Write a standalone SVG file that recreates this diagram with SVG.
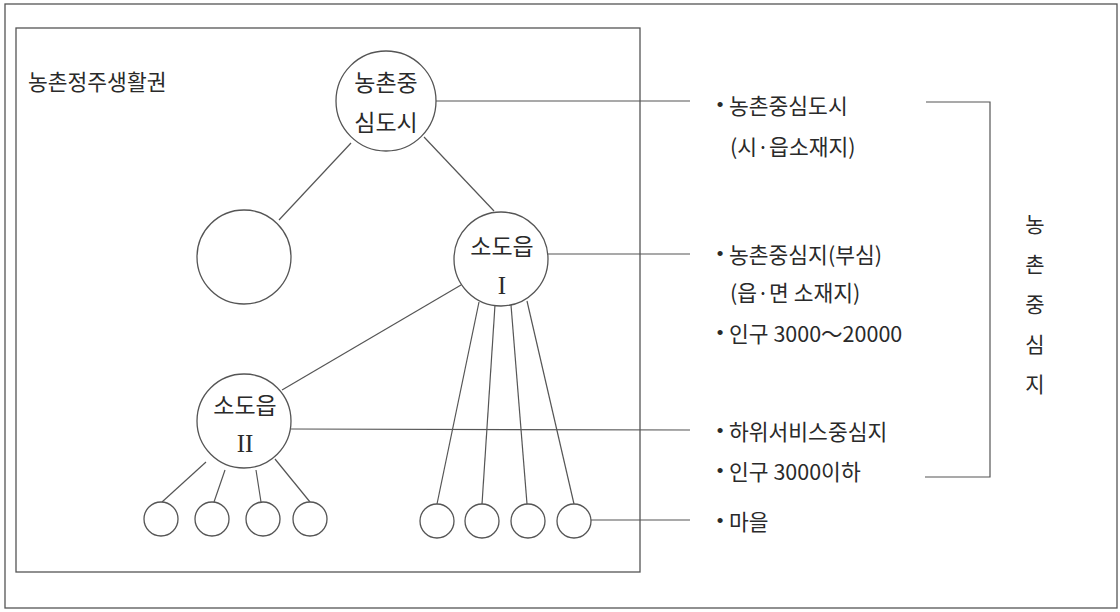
<svg xmlns="http://www.w3.org/2000/svg" width="1120" height="612" viewBox="0 0 1120 612">
  <style>
    .frame { fill: none; stroke: #555; stroke-width: 1.3; }
    .node { fill: #fff; stroke: #555; stroke-width: 1.3; }
    .wire { fill: none; stroke: #555; stroke-width: 1.2; }
    .ko { font-family: "Noto Sans CJK KR", "Noto Sans", sans-serif; font-size: 21.5px; fill: #2a2a2a; dominant-baseline: central; }
    .inner { font-size: 23px; }
    .side { font-size: 21px; }
    .mid { text-anchor: middle; }
    .roman { font-family: "Liberation Serif", serif; font-size: 25px; fill: #2a2a2a; text-anchor: middle; dominant-baseline: central; }
    .dot { font-family: "Liberation Sans", sans-serif; font-size: 19px; fill: #2a2a2a; text-anchor: middle; dominant-baseline: central; }
  </style>
  <rect width="1120" height="612" fill="#fff"/>

  <!-- outer and inner frames -->
  <rect class="frame" x="5" y="4" width="1112" height="604"/>
  <rect class="frame" x="16" y="28" width="624" height="544"/>
  <text class="ko" x="28" y="80">농촌정주생활권</text>

  <!-- connectors -->
  <g id="connectors" class="wire">
    <line x1="351" y1="143" x2="279" y2="220"/>
    <line x1="424" y1="137" x2="494" y2="211"/>
    <line x1="461" y1="285" x2="282" y2="390"/>
    <line x1="206" y1="462" x2="162" y2="502"/>
    <line x1="225" y1="470" x2="214" y2="502"/>
    <line x1="256" y1="470" x2="261" y2="502"/>
    <line x1="275" y1="459" x2="310" y2="502"/>
    <line x1="479" y1="302" x2="437" y2="504"/>
    <line x1="495" y1="305" x2="482" y2="504"/>
    <line x1="511" y1="305" x2="527" y2="504"/>
    <line x1="527" y1="301" x2="574" y2="504"/>
    <!-- leaders to the legend -->
    <line x1="436" y1="101" x2="690" y2="101"/>
    <line x1="548" y1="254" x2="690" y2="254"/>
    <line x1="291" y1="429" x2="690" y2="430"/>
    <line x1="591" y1="520" x2="690" y2="520"/>
    <!-- bracket -->
    <polyline points="926,102 990,102 990,477 925,477"/>
  </g>

  <!-- nodes -->
  <g id="node-city">
    <circle class="node" cx="386" cy="101" r="50"/>
    <text class="ko inner mid" x="386" y="81">농촌중</text>
    <text class="ko inner mid" x="386" y="121">심도시</text>
  </g>
  <g id="node-empty">
    <circle class="node" cx="244" cy="257" r="47"/>
  </g>
  <g id="node-town1">
    <circle class="node" cx="501" cy="259" r="47"/>
    <text class="ko inner mid" x="502" y="245">소도읍</text>
    <text class="roman" x="502" y="285">I</text>
  </g>
  <g id="node-town2">
    <circle class="node" cx="244" cy="421" r="47"/>
    <text class="ko inner mid" x="245" y="404">소도읍</text>
    <text class="roman" x="245" y="443">II</text>
  </g>
  <g id="villages">
    <circle class="node" cx="161" cy="519" r="17"/>
    <circle class="node" cx="212" cy="519" r="17"/>
    <circle class="node" cx="263" cy="519" r="17"/>
    <circle class="node" cx="310" cy="519" r="17"/>
    <circle class="node" cx="437" cy="521" r="17"/>
    <circle class="node" cx="482" cy="521" r="17"/>
    <circle class="node" cx="528" cy="521" r="17"/>
    <circle class="node" cx="574" cy="521" r="17"/>
  </g>

  <!-- legend -->
  <g id="legend">
    <text class="dot" x="720" y="104">•</text>
    <text class="ko" x="729" y="104">농촌중심도시</text>
    <text class="ko" x="730" y="145">(시·읍소재지)</text>

    <text class="dot" x="720" y="253">•</text>
    <text class="ko" x="729" y="253">농촌중심지(부심)</text>
    <text class="ko" x="730" y="291">(읍·면 소재지)</text>
    <text class="dot" x="720" y="332">•</text>
    <text class="ko" x="729" y="332">인구 3000～20000</text>

    <text class="dot" x="720" y="430">•</text>
    <text class="ko" x="729" y="430">하위서비스중심지</text>
    <text class="dot" x="720" y="470">•</text>
    <text class="ko" x="729" y="470">인구 3000이하</text>

    <text class="dot" x="720" y="520">•</text>
    <text class="ko" x="729" y="520">마을</text>
  </g>

  <!-- vertical label beside the bracket -->
  <g id="bracket-label">
    <text class="ko side mid" x="1035" y="223">농</text>
    <text class="ko side mid" x="1035" y="263">촌</text>
    <text class="ko side mid" x="1035" y="303">중</text>
    <text class="ko side mid" x="1035" y="343">심</text>
    <text class="ko side mid" x="1035" y="383">지</text>
  </g>
</svg>
